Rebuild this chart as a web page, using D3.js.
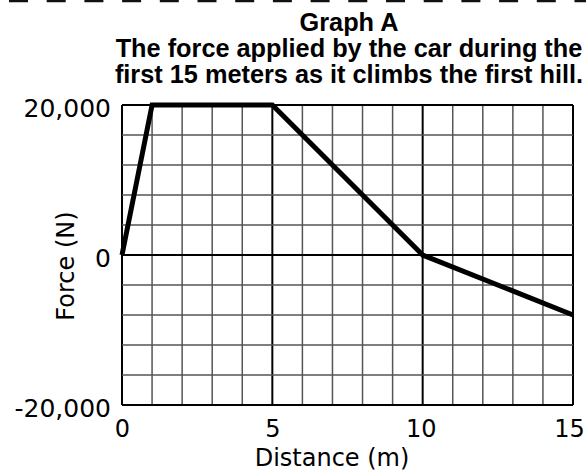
<!DOCTYPE html>
<html>
<head>
<meta charset="utf-8">
<script src="https://cdn.jsdelivr.net/npm/d3@7"></script>
<style>
  body { margin: 0; background: #fff; }
</style>
</head>
<body>
<script>
// Data
const distance = [0, 1, 5, 10, 15];
const force = [0, 20000, 20000, 0, -8000];
const xTicks = [0, 5, 10, 15];
const yTicks = [-20000, 0, 20000];
const titleLines = ["Graph A", "The force applied by the car during the", "first 15 meters as it climbs the first hill."];

const width = 586, height = 471;
const margin = { top: 105, right: 13, bottom: 66, left: 122 };

const svg = d3.select("body").append("svg")
    .attr("width", width)
    .attr("height", height);

// dashed cut line at the top
svg.append("line")
    .attr("x1", 9).attr("x2", width)
    .attr("y1", 1).attr("y2", 1)
    .attr("stroke", "#111")
    .attr("stroke-width", 2.5)
    .attr("stroke-dasharray", "19,18.7");

// title
svg.append("g").selectAll("text")
    .data(titleLines)
    .enter().append("text")
    .attr("x", 349)
    .attr("y", (d, i) => 31 + i * 26)
    .attr("text-anchor", "middle")
    .attr("font-family", "Liberation Sans, Arial, sans-serif")
    .attr("font-weight", "bold")
    .attr("font-size", 25.3)
    .text(d => d);

const x = d3.scaleLinear().domain([0, 15]).range([margin.left, width - margin.right]);
const y = d3.scaleLinear().domain([-20000, 20000]).range([height - margin.bottom, margin.top]);

// grid
const grid = svg.append("g");
grid.selectAll(".vx")
    .data(d3.range(0, 16))
    .enter().append("line")
    .attr("x1", d => x(d)).attr("x2", d => x(d))
    .attr("y1", y(-20000)).attr("y2", y(20000))
    .attr("stroke", d => d % 5 === 0 ? "#000" : "#555")
    .attr("stroke-width", d => d % 5 === 0 ? 2 : 1.5);

grid.selectAll(".hy")
    .data(d3.range(-20000, 20001, 4000))
    .enter().append("line")
    .attr("x1", x(0)).attr("x2", x(15))
    .attr("y1", d => y(d)).attr("y2", d => y(d))
    .attr("stroke", d => (d === 0 || Math.abs(d) === 20000) ? "#000" : "#555")
    .attr("stroke-width", d => (d === 0 || Math.abs(d) === 20000) ? 2 : 1.5);

// axes
const fmt = d => d3.format(",")(d).replace("−", "-");
const yAxis = svg.append("g")
    .attr("transform", `translate(${margin.left},0)`)
    .call(d3.axisLeft(y).tickValues(yTicks).tickFormat(fmt).tickSize(0).tickPadding(11));
yAxis.select(".domain").remove();
yAxis.selectAll("text")
    .attr("font-family", "DejaVu Sans, Verdana, sans-serif")
    .attr("font-size", 25)
    .attr("dy", "0.45em")
    .attr("fill", "#000");

const xAxis = svg.append("g")
    .attr("transform", `translate(0,${height - margin.bottom})`)
    .call(d3.axisBottom(x).tickValues(xTicks).tickSize(0).tickPadding(15));
xAxis.select(".domain").remove();
xAxis.selectAll("text")
    .attr("font-family", "DejaVu Sans, Verdana, sans-serif")
    .attr("font-size", 24)
    .attr("dx", d => d === 15 ? -4 : d === 10 ? -2 : 0)
    .attr("fill", "#000");

// axis titles
svg.append("text")
    .attr("x", 332)
    .attr("y", 466)
    .attr("text-anchor", "middle")
    .attr("font-family", "DejaVu Sans, Verdana, sans-serif")
    .attr("font-size", 24)
    .text("Distance (m)");

svg.append("text")
    .attr("transform", `translate(74,266) rotate(-90)`)
    .attr("text-anchor", "middle")
    .attr("font-family", "DejaVu Sans, Verdana, sans-serif")
    .attr("font-size", 24)
    .text("Force (N)");

// data line
const pts = distance.map((d, i) => [d, force[i]]);
svg.append("path")
    .datum(pts)
    .attr("fill", "none")
    .attr("stroke", "#000")
    .attr("stroke-width", 5)
    .attr("stroke-linejoin", "miter")
    .attr("d", d3.line().x(d => x(d[0])).y(d => y(d[1])));
</script>
</body>
</html>
